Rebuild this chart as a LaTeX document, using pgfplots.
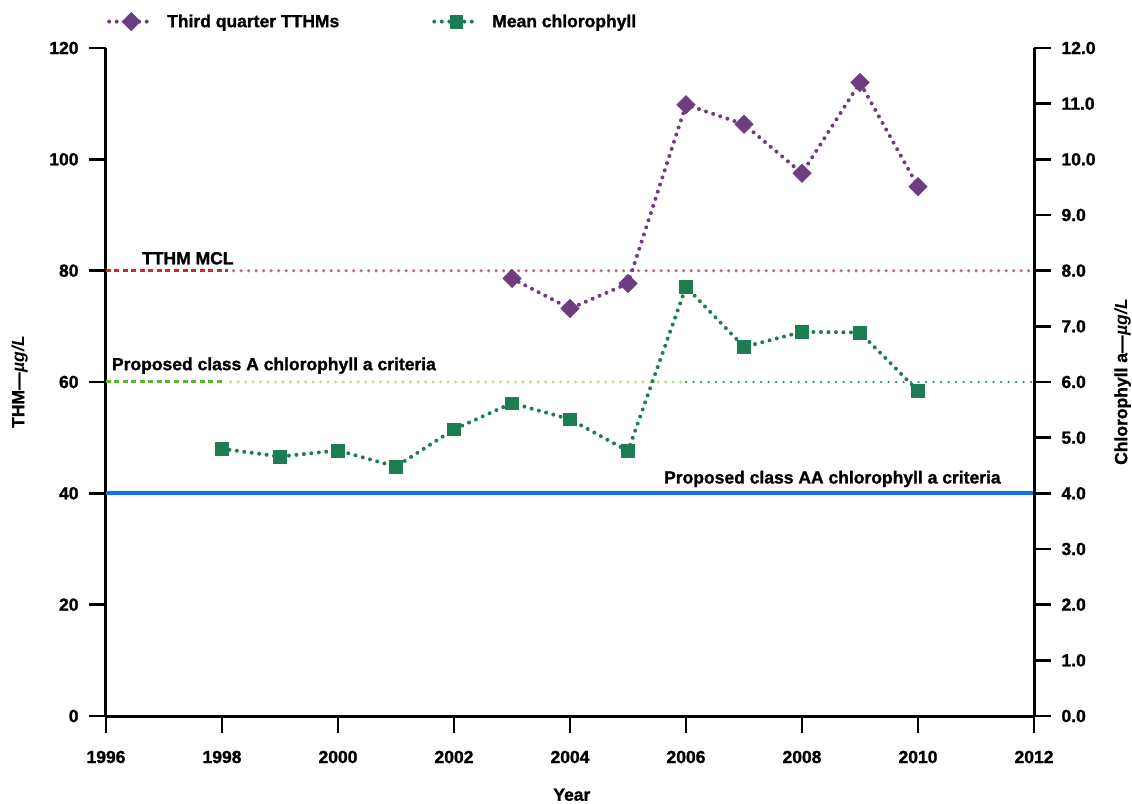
\documentclass[border=0pt]{standalone}
\usepackage{fontspec}
\setmainfont{Liberation Sans}[BoldFeatures={FakeBold=1.3}]
\usepackage{pgfplots}
\pgfplotsset{compat=1.18}

\definecolor{tthmpurple}{RGB}{110,61,128}
\definecolor{chlgreen}{RGB}{27,125,80}
\definecolor{mclred}{RGB}{212,38,44}
\definecolor{mclpale}{RGB}{206,100,112}
\definecolor{critA}{RGB}{92,181,49}
\definecolor{critApale}{RGB}{190,222,160}
\definecolor{critAteal}{RGB}{46,138,106}
\definecolor{critAA}{RGB}{16,112,236}

\pgfplotsset{
  dotline/.style={line width=4pt, line cap=round, dash pattern=on 0pt off 7.5pt},
  tthmstyle/.style={tthmpurple, dotline, mark=square*, mark size=6.5pt,
    mark options={solid, rotate=45, fill=tthmpurple, draw=tthmpurple, line width=0.5pt}},
  chlstyle/.style={chlgreen, dotline, mark=square*, mark size=6.3pt,
    mark options={solid, fill=chlgreen, draw=chlgreen, line width=0.5pt}},
  common/.style={
    scale only axis, width=928pt, height=668pt,
    xmin=1996, xmax=2012,
    axis line style={line width=3pt, black, -},
    tick align=outside, major tick length=17pt,
    tick style={line width=2.5pt, black},
    minor tick num=0,
    clip=false,
    /pgf/number format/assume math mode=true,
    ticklabel style={font=\fontsize{17.5}{21}\selectfont\bfseries},
    label style={font=\fontsize{17.5}{21}\selectfont\bfseries},
  },
}

\begin{document}
\begin{tikzpicture}[font=\fontsize{17.5}{21}\selectfont\bfseries]
\path[use as bounding box] (-106pt,-87pt) rectangle (1026pt,716pt);

% THM axis (left)
\begin{axis}[common,
  ymin=0, ymax=120,
  axis x line*=bottom, axis y line*=left,
  xtick={1996,1998,...,2012},
  ytick={0,20,...,120},
  xticklabel style={/pgf/number format/1000 sep={}, anchor=center, yshift=-24pt},
  yticklabel style={anchor=east, xshift=-7pt},
  xlabel={Year},
  xlabel style={at={(axis description cs:0.502,-0.118)}, anchor=center},
  ylabel={THM—\textit{µg/L}},
  ylabel style={at={(axis description cs:-0.093,0.5)}, anchor=center},
]
% TTHM maximum contaminant level
\addplot[mclred, line width=3pt, dash pattern=on 5pt off 3.5pt] coordinates {(1996,80) (1998.1,80)};
\addplot[mclpale, dotline, line width=3.5pt] coordinates {(1998.2,80) (2012,80)};
% proposed class A criterion (6.0 on the chlorophyll scale)
\addplot[critA, line width=3pt, dash pattern=on 5pt off 3.5pt] coordinates {(1996,60) (1998.05,60)};
\addplot[critApale, dotline, line width=3.5pt] coordinates {(1998.15,60) (2006,60)};
\addplot[critAteal, dotline, line width=2.5pt] coordinates {(2006,60) (2012,60)};
% proposed class AA criterion (4.0 on the chlorophyll scale)
\addplot[critAA, line width=4pt] coordinates {(1996,40) (2012,40)};

\node[anchor=south west, inner sep=0pt] at (axis cs:1996.62,80) [yshift=6pt] {TTHM MCL};
\node[anchor=south west, inner sep=0pt] at (axis cs:1996.1,60) [yshift=8pt] {Proposed class A chlorophyll a criteria};
\node[anchor=south west, inner sep=0pt] at (axis cs:2005.62,40) [yshift=6pt] {Proposed class AA chlorophyll a criteria};

% third quarter TTHMs
\addplot[tthmstyle] coordinates {
  (2003,78.6) (2004,73.2) (2005,77.7) (2006,109.8)
  (2007,106.3) (2008,97.5) (2009,113.8) (2010,95.1)
};
\end{axis}

% chlorophyll axis (right)
\begin{axis}[common,
  ymin=0, ymax=12,
  axis x line=none, axis y line*=right,
  ytick={0,1,...,12},
  yticklabel style={anchor=west, xshift=7pt,
    /pgf/number format/.cd, fixed, fixed zerofill, precision=1},
  ylabel={Chlorophyll a—\textit{µg/L}},
  ylabel style={at={(axis description cs:1.0955,0.5)}, anchor=center},
  legend columns=2,
  legend style={at={(axis description cs:0,1)}, anchor=south west,
    xshift=-2pt, yshift=15pt, draw=none, fill=none,
    font=\fontsize{17.5}{21}\selectfont\bfseries,
    /tikz/every odd column/.append style={column sep=10pt},
    /tikz/every even column/.append style={column sep=91pt}},
  legend image code/.code={
    \draw[#1, mark repeat=2, mark phase=2] plot coordinates {(0pt,0pt) (22pt,0pt) (44pt,0pt)};},
]
\addlegendimage{tthmstyle}
\addlegendentry{Third quarter TTHMs}
\addplot[chlstyle] coordinates {
  (1998,4.80) (1999,4.66) (2000,4.77) (2001,4.48) (2002,5.15)
  (2003,5.62) (2004,5.33) (2005,4.76) (2006,7.71) (2007,6.63)
  (2008,6.90) (2009,6.89) (2010,5.84)
};
\addlegendentry{Mean chlorophyll}
\end{axis}
\end{tikzpicture}
\end{document}
